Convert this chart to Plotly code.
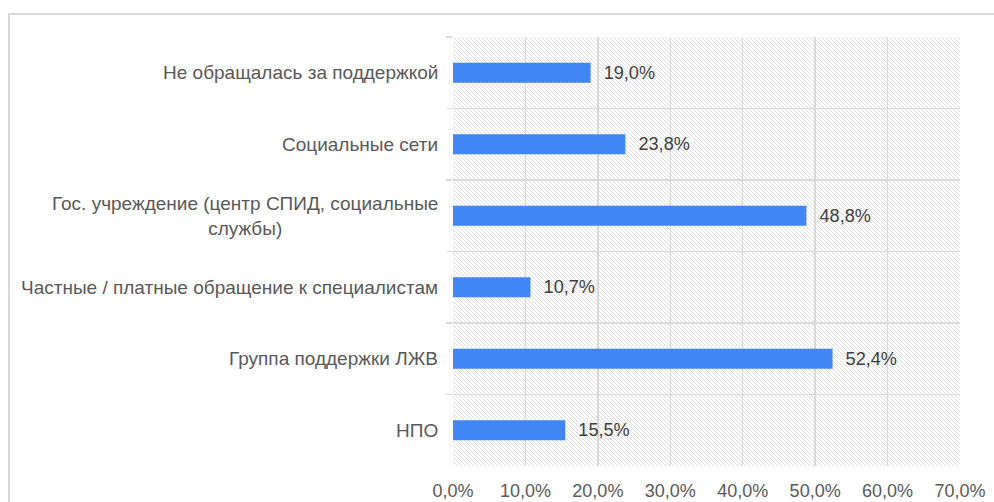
import base64
import plotly.graph_objects as go

categories = [
    "Не обращалась за поддержкой",
    "Социальные сети",
    "Гос. учреждение (центр СПИД, социальные<br>службы)",
    "Частные / платные обращение к специалистам",
    "Группа поддержки ЛЖВ",
    "НПО",
]
values = [19.0, 23.8, 48.8, 10.7, 52.4, 15.5]
x_ticks = [0, 10, 20, 30, 40, 50, 60, 70]
x_tick_labels = ["0,0%", "10,0%", "20,0%", "30,0%", "40,0%", "50,0%", "60,0%", "70,0%"]

W, H = 994, 502
ML, MR, MT, MB = 453, 34, 37, 36
PW, PH = W - ML - MR, H - MT - MB

GRID = "#d9d9d9"
TEXT = "#595959"
FONT = "Liberation Sans, Arial, sans-serif"

# diagonal hatch background for the plot area
svg = (
    f'<svg xmlns="http://www.w3.org/2000/svg" width="{PW}" height="{PH}" '
    f'viewBox="0 0 {PW} {PH}" preserveAspectRatio="none">'
    '<defs><pattern id="p" width="4" height="4" patternUnits="userSpaceOnUse">'
    '<path d="M-1,-1 L5,5 M-1,3 L1,5 M3,-1 L5,1" stroke="#dedede" stroke-width="1" '
    'shape-rendering="crispEdges"/>'
    '</pattern></defs>'
    f'<rect width="{PW}" height="{PH}" fill="white"/>'
    f'<rect width="{PW}" height="{PH}" fill="url(#p)"/></svg>'
)
img_src = "data:image/svg+xml;base64," + base64.b64encode(svg.encode()).decode()

fig = go.Figure()
fig.add_trace(go.Bar(
    y=categories,
    x=values,
    orientation="h",
    width=0.28,
    marker=dict(color="#4285F4", line=dict(width=0)),
    texttemplate="\u00a0\u00a0%{x:.1f}%",
    textposition="outside",
    textfont=dict(family=FONT, size=19, color="#404040"),
    cliponaxis=False,
    hoverinfo="skip",
))

annotations = []
for c in categories:
    annotations.append(dict(
        x=0, xref="paper", y=c, yref="y",
        text=c, showarrow=False, xanchor="right", yanchor="middle",
        align="center", xshift=-13,
        font=dict(family=FONT, size=19, color=TEXT),
    ))

fig.update_layout(
    width=W, height=H,
    margin=dict(l=ML, r=MR, t=MT, b=MB, autoexpand=False),
    paper_bgcolor="white",
    plot_bgcolor="rgba(0,0,0,0)",
    separators=", ",
    showlegend=False,
    font=dict(family=FONT, size=18, color=TEXT),
    xaxis=dict(
        range=[x_ticks[0], x_ticks[-1]],
        tickvals=x_ticks,
        ticktext=x_tick_labels,
        showgrid=True, gridcolor=GRID, gridwidth=1.5,
        zeroline=False, showline=False,
        ticks="outside", ticklen=8, tickcolor="rgba(0,0,0,0)",
        tickfont=dict(family=FONT, size=18, color=TEXT),
        automargin=False,
    ),
    yaxis=dict(
        type="category",
        autorange="reversed",
        tickson="boundaries",
        showgrid=True, gridcolor=GRID, gridwidth=1.5,
        ticks="outside", ticklen=6, tickcolor=GRID, tickwidth=1.5,
        showticklabels=False,
        showline=False, zeroline=False,
        automargin=False,
    ),
    images=[dict(
        source=img_src, xref="paper", yref="paper", x=0, y=1,
        sizex=1, sizey=1, sizing="stretch", xanchor="left", yanchor="top",
        layer="below",
    )],
    annotations=annotations,
    shapes=[dict(
        type="rect", xref="paper", yref="paper",
        x0=(9 - ML) / PW, x1=(W + 20 - ML) / PW,
        y0=-(H + 20 - MT - PH) / PH, y1=(PH + MT - 14) / PH,
        line=dict(color=GRID, width=2), fillcolor="rgba(0,0,0,0)", layer="below",
    )],
)

fig.write_html(
    "out.html",
    config={"displayModeBar": False, "staticPlot": True},
    post_script="document.body.style.margin='0';document.body.style.overflow='hidden';",
)
